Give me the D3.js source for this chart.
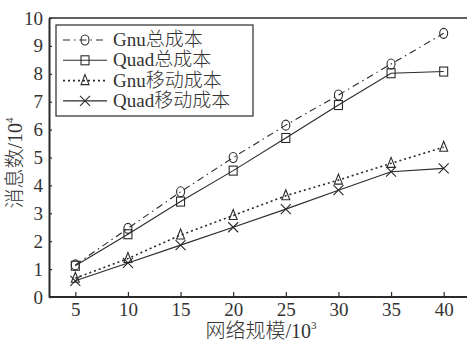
<!DOCTYPE html>
<html>
<head>
<meta charset="utf-8">
<script src="https://cdn.jsdelivr.net/npm/d3@7"></script>
<style>
	body { margin: 0; background: #fff; }
	svg text { font-family: "Liberation Serif", "Times New Roman", "DejaVu Serif", "Noto Sans CJK SC", serif; fill: #333; font-weight: 300; }
</style>
</head>
<body>
<div id="chart"></div>
<script>
// Data
const sizes = [5, 10, 15, 20, 25, 30, 35, 40];
const gnuTotal = [1.15, 2.46, 3.77, 5.0, 6.16, 7.24, 8.35, 9.45];
const quadTotal = [1.12, 2.25, 3.42, 4.53, 5.7, 6.88, 8.02, 8.08];
const gnuMove = [0.67, 1.38, 2.22, 2.92, 3.63, 4.19, 4.79, 5.37];
const quadMove = [0.58, 1.22, 1.86, 2.5, 3.15, 3.83, 4.49, 4.61];
const seriesNames = ["Gnu总成本", "Quad总成本", "Gnu移动成本", "Quad移动成本"];
const yTicks = [0, 1, 2, 3, 4, 5, 6, 7, 8, 9, 10];

const width = 467, height = 342;
const svg = d3.select("#chart").append("svg")
	.attr("width", width)
	.attr("height", height);

const x = d3.scaleLinear().domain([2.5, 42.5]).range([49, 470]);
const y = d3.scaleLinear().domain([0, 10]).range([297, 18]);

const ink = "#2a2a2a";

// series styles
const series = [
	{ name: seriesNames[0], values: gnuTotal, dash: "7,4,1.5,4", marker: "circle" },
	{ name: seriesNames[1], values: quadTotal, dash: null, marker: "square" },
	{ name: seriesNames[2], values: gnuMove, dash: "2,3", marker: "triangle" },
	{ name: seriesNames[3], values: quadMove, dash: null, marker: "cross" },
];

function drawMarker(g, type, cx, cy) {
	if (type == "circle") {
		g.append("ellipse").attr("cx", cx).attr("cy", cy).attr("rx", 4).attr("ry", 5)
			.attr("fill", "none").attr("stroke", ink).attr("stroke-width", 1.1);
	} else if (type == "square") {
		g.append("rect").attr("x", cx - 4).attr("y", cy - 4.5).attr("width", 8).attr("height", 9)
			.attr("fill", "none").attr("stroke", ink).attr("stroke-width", 1.1);
	} else if (type == "triangle") {
		g.append("path").attr("d", `M${cx},${cy - 6}L${cx + 4},${cy + 4}L${cx - 4},${cy + 4}Z`)
			.attr("fill", "none").attr("stroke", ink).attr("stroke-width", 1.1);
	} else {
		g.append("path").attr("d", `M${cx - 5},${cy - 5}L${cx + 5},${cy + 5}M${cx + 5},${cy - 5}L${cx - 5},${cy + 5}`)
			.attr("fill", "none").attr("stroke", ink).attr("stroke-width", 1.1);
	}
}

// Axes frame
svg.append("line").attr("x1", 49).attr("x2", width).attr("y1", y(10)).attr("y2", y(10))
	.attr("stroke", ink).attr("stroke-width", 1.5);

const xAxis = d3.axisBottom(x).tickValues(sizes).tickSizeInner(-5).tickSizeOuter(0).tickPadding(6);
const gx = svg.append("g").attr("transform", `translate(0,${y(0)})`).call(xAxis);
gx.select(".domain").attr("stroke", ink).attr("stroke-width", 2).attr("d", `M49,0H${width}`);
gx.selectAll(".tick line").attr("stroke", ink).attr("stroke-width", 1.2);
gx.selectAll(".tick text").attr("font-size", 19);

const yAxis = d3.axisLeft(y).tickValues(yTicks).tickSizeInner(-3).tickSizeOuter(0).tickPadding(6);
const gy = svg.append("g").attr("transform", `translate(${x(2.5)},0)`).call(yAxis);
gy.select(".domain").attr("stroke", ink).attr("stroke-width", 2);
gy.selectAll(".tick line").attr("stroke", ink).attr("stroke-width", 1.2);
gy.selectAll(".tick text").attr("font-size", 19);

// Lines and markers
const line = d3.line().x((d, i) => x(sizes[i])).y(d => y(d));
series.forEach(s => {
	svg.append("path").datum(s.values)
		.attr("d", line)
		.attr("fill", "none")
		.attr("stroke", ink)
		.attr("stroke-width", s.dash == "2,3" ? 1.6 : 1.1)
		.attr("stroke-dasharray", s.dash);
	const g = svg.append("g");
	s.values.forEach((v, i) => drawMarker(g, s.marker, x(sizes[i]), y(v)));
});

// Legend
const legend = svg.append("g");
legend.append("rect").attr("x", 56).attr("y", 25).attr("width", 197).attr("height", 91)
	.attr("fill", "#fff").attr("stroke", ink).attr("stroke-width", 1.2);
series.forEach((s, i) => {
	const ly = 40 + i * 20.3;
	legend.append("line").attr("x1", 63).attr("x2", 107).attr("y1", ly).attr("y2", ly)
		.attr("stroke", ink)
		.attr("stroke-width", s.dash == "2,3" ? 1.6 : 1.1)
		.attr("stroke-dasharray", s.dash);
	drawMarker(legend, s.marker, 85, ly);
	legend.append("text").attr("x", 113).attr("y", ly + 6)
		.attr("font-size", 19)
		.text(s.name);
});

// Axis titles
const xt = svg.append("text").attr("x", 261).attr("y", 338).attr("text-anchor", "middle").attr("font-size", 20);
xt.append("tspan").text("网络规模/10");
xt.append("tspan").attr("dy", -9).attr("font-size", 11).text("3");

const yt = svg.append("text").attr("transform", `translate(22,163) rotate(-90)`).attr("text-anchor", "middle").attr("font-size", 20);
yt.append("tspan").text("消息数/10");
yt.append("tspan").attr("dy", -9).attr("font-size", 11).text("4");
</script>
</body>
</html>
